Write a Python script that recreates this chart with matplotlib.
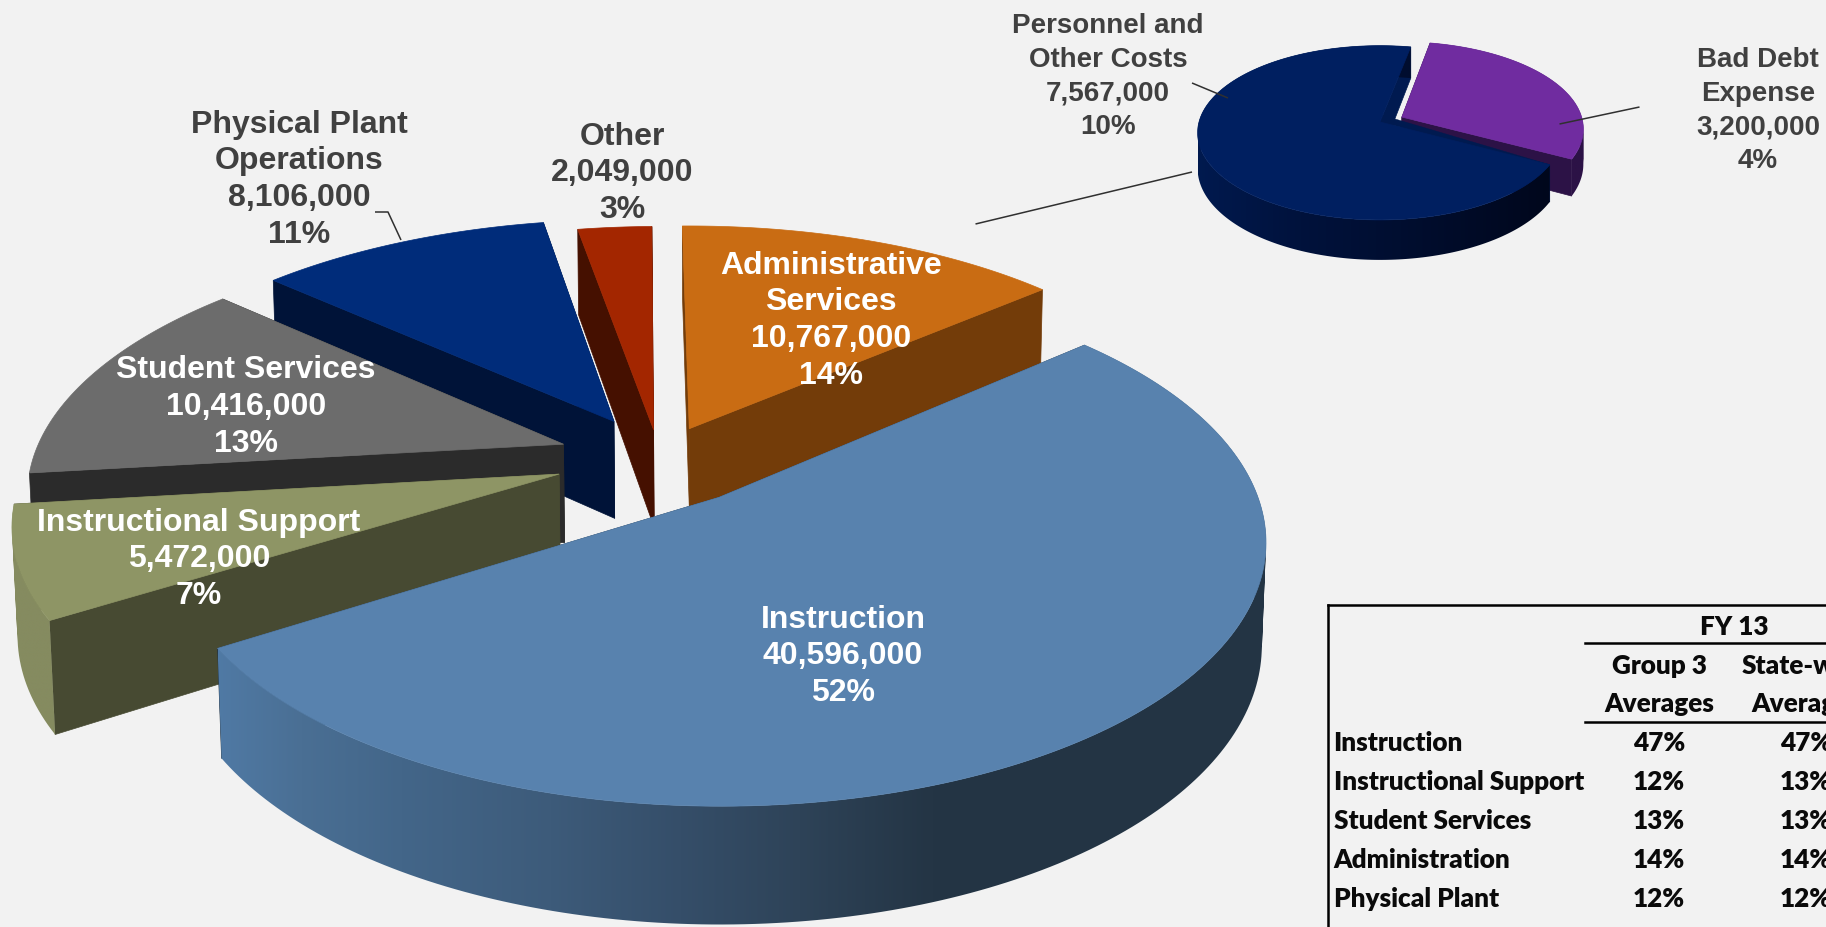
import numpy as np
import matplotlib
matplotlib.use('Agg')
import matplotlib.pyplot as plt
from matplotlib.colors import to_rgb
from matplotlib.patches import PathPatch
from matplotlib.path import Path

plt.rcParams['font.family'] = ['Liberation Sans', 'DejaVu Sans']

# main pie, clockwise from the top
main_names = [['Administrative', 'Services'], ['Instruction'], ['Instructional Support'],
              ['Student Services'], ['Physical Plant', 'Operations'], ['Other']]
main_values = [10767000, 40596000, 5472000, 10416000, 8106000, 2049000]
main_pct = ['14%', '52%', '7%', '13%', '11%', '3%']

# second pie splits the administrative slice
side_names = [['Bad Debt', 'Expense'], ['Personnel and', 'Other Costs']]
side_values = [3200000, 7567000]
side_pct = ['4%', '10%']

table_rows = ['Instruction', 'Instructional Support', 'Student Services', 'Administration', 'Physical Plant']
group3_avg = ['47%', '12%', '13%', '14%', '12%']
state_avg = ['47%', '13%', '13%', '14%', '12%']

BG = '#F2F2F2'
TXT = '#404040'

# camera matrices: plane (u, v, z) to pixels
main_cam = [536.49933532, 73.73160538, 5.19021494, 657.41208288, -10.91359413, -170.89230313,
            103.03154308, 458.04217617, 0.01506637, 0.16054757, 0.0072694]
main_start = 0.05461978
main_explode = [0.14763035, 0.19455739, 0.19459064, 0.18910328, 0.17557294, 0.12666112]
main_depth = [0.85, 1, 1.05, 1, 1, 1]
main_shift = [(0, 3), (0, 0), (0, 0), (0, 0), (0, 0), (2, 2)]
side_cam = [181, 171.1, 0, 1380, 0, -70.67, 35, 122, 0, 0.124, 0]
side_start = np.radians(11)
side_explode = [0.135, 0.0]

main_top = ['#C96C13', '#5882AE', '#8E9565', '#6C6C6C', '#002C7A', '#A32600']
main_wall = ['#733C09', '#233444', '#474A32', '#2B2B2B', '#001338', '#451000']
main_rim = [None, [(213, '#507AA5'), (300, '#4A6F94'), (400, '#436689'), (550, '#3D5B7A'),
                   (680, '#354E69'), (800, '#2E4358'), (930, '#243545'), (1265, '#233444')],
            [(0, '#858B60'), (100, '#858B60')], None, None, None]
side_top = ['#702CA0', '#001F60']
side_wall = ['#2C1246', '#001A50']
side_rim = [[(0, '#2C1246'), (2000, '#2C1246')],
            [(1190, '#001A50'), (1300, '#00123C'), (1400, '#000E30'), (1550, '#00071C')]]

z_count = [1]


def next_z():
    z_count[0] += 1
    return z_count[0] * 0.01


def project(P, u, v, z):
    w = P[8]*u + P[9]*v + P[10]*z + 1
    return (P[0]*u + P[1]*v + P[2]*z + P[3]) / w, (P[4]*u + P[5]*v + P[6]*z + P[7]) / w


def gradient_wall(x1, y1, x2, y2, stops):
    # horizontal gradient clipped to the wall strips, all wound the same way so they merge
    verts, codes = [], []
    for k in range(len(x1) - 1):
        q = np.array([[x1[k], y1[k]], [x1[k+1], y1[k+1]], [x2[k+1], y2[k+1]], [x2[k], y2[k]]])
        area = np.sum(q[:, 0]*np.roll(q[:, 1], -1) - np.roll(q[:, 0], -1)*q[:, 1])
        if area < 0:
            q = q[::-1]
        verts += list(q) + [q[0]]
        codes += [Path.MOVETO, Path.LINETO, Path.LINETO, Path.LINETO, Path.CLOSEPOLY]
    xmin, xmax = min(x1.min(), x2.min()), max(x1.max(), x2.max())
    ymin, ymax = min(y1.min(), y2.min()), max(y1.max(), y2.max())
    xs = np.linspace(xmin, xmax, 256)
    cols = np.array([to_rgb(s[1]) for s in stops])
    pos = [s[0] for s in stops]
    grad = np.stack([np.interp(xs, pos, cols[:, k]) for k in range(3)], axis=-1)[None, :, :]
    im = ax.imshow(grad, extent=[xmin, xmax, ymax, ymin], aspect='auto', interpolation='bilinear', zorder=next_z())
    clip = PathPatch(Path(np.array(verts), codes), transform=ax.transData, fc='none', ec='none')
    ax.add_patch(clip)
    im.set_clip_path(clip)


def draw_slice(P, a0, a1, e, top, wall, rim, depth=1, shift=(0, 0), notch=False):
    mid = (a0 + a1) / 2
    cu, cv = e*np.sin(mid), e*np.cos(mid)
    th = np.linspace(a0, a1, max(int((a1 - a0)*60), 12))
    ru, rv = cu + np.sin(th), cv + np.cos(th)
    sx, sy = shift
    # radial side walls
    for t in (a0, a1):
        eu, ev = cu + np.sin(t), cv + np.cos(t)
        x0, y0 = project(P, np.array([cu, eu, eu, cu]), np.array([cv, ev, ev, cv]),
                         np.array([0, 0, depth, depth]))
        ax.fill(x0 + sx, y0 + sy, color=wall, lw=0.5, zorder=next_z())
    # outer wall
    if rim is not None:
        x1, y1 = project(P, ru, rv, np.zeros(len(th)))
        x2, y2 = project(P, ru, rv, np.full(len(th), float(depth)))
        gradient_wall(x1 + sx, y1 + sy, x2 + sx, y2 + sy, rim)
    if notch:
        # thin dark wedge beside the cut of the second pie
        nx, ny = project(P, np.array([cu + np.sin(a0), cu, cu + 0.08*np.sin(a1)]),
                         np.array([cv + np.cos(a0), cv, cv + 0.08*np.cos(a1)]), np.zeros(3))
        ax.fill(nx + sx, ny + sy, color=wall, lw=0.3, zorder=next_z())
    xs, ys = project(P, np.r_[cu, ru], np.r_[cv, rv], np.zeros(len(th) + 1))
    ax.fill(xs + sx, ys + sy, color=top, lw=0.5, zorder=next_z())


def draw_pie(P, values, start, explode, tops, walls, rims, order, depths=None, shifts=None, notch=None):
    vals = np.array(values, float)
    edges = np.r_[0, np.cumsum(vals)] / vals.sum() * 2*np.pi + start
    for i in order:
        d = depths[i] if depths else 1
        s = shifts[i] if shifts else (0, 0)
        draw_slice(P, edges[i], edges[i+1], explode[i], tops[i], walls[i], rims[i], d, s, notch == i)


def label(x, y, lines, size, dy, color):
    # x, y is the centre of the first line
    for n, s in enumerate(lines):
        ax.text(x, y + n*dy + size*0.5, s, ha='center', va='baseline', fontsize=size, fontweight='bold',
                color=color, zorder=10)


fig = plt.figure(figsize=(18.26, 9.27), dpi=100, facecolor=BG)
ax = fig.add_axes([0, 0, 1, 1])
ax.set_autoscale_on(False)
ax.set_xlim(0, 1826)
ax.set_ylim(927, 0)
ax.axis('off')

draw_pie(main_cam, main_values, main_start, main_explode, main_top, main_wall, main_rim,
         [5, 0, 4, 3, 2, 1], main_depth, main_shift)
draw_pie(side_cam, side_values, side_start, side_explode, side_top, side_wall, side_rim, [0, 1], notch=1)

main_pos = [(831, 262), (843, 616), (199, 519), (246, 367), (299, 121), (622, 133)]
for i, (x, y) in enumerate(main_pos):
    lines = main_names[i] + [f'{main_values[i]:,}', main_pct[i]]
    col = TXT if i >= 4 else 'white'
    label(x, y, lines, 23, 36.8, col)

side_pos = [(1758, 57), (1108, 23)]
for i, (x, y) in enumerate(side_pos):
    label(x, y, side_names[i] + [f'{side_values[i]:,}', side_pct[i]], 20, 33.8, TXT)

# leader lines
leaders = [([375, 388, 401], [212, 212, 240]), ([1192, 1228], [83, 98]),
           ([1192, 975.5], [172, 224]), ([1639.5, 1559.5], [107, 124])]
for lx, ly in leaders:
    ax.plot(lx, ly, color='#303030', lw=1.1, solid_capstyle='butt', zorder=9)

# comparison table, runs off the right and bottom of the picture
ax.plot([1327.5, 1327.5], [927, 605], color='black', lw=1.8, zorder=5)
ax.plot([1327.5, 1826], [605, 605], color='black', lw=1.8, zorder=5)
ax.plot([1585, 1826], [643, 643], color='black', lw=1.8, zorder=5)
ax.plot([1585, 1826], [722, 722], color='black', lw=1.8, zorder=5)
tkw = dict(family=['Lato', 'DejaVu Sans'], fontweight='heavy', fontsize=18.8, color='#0A0A0A', va='center', zorder=10)
ax.text(1734.5, 627, 'FY 13', ha='center', **tkw)
ax.text(1659, 666, 'Group 3', ha='center', **tkw)
ax.text(1659, 704, 'Averages', ha='center', **tkw)
ax.text(1806, 666, 'State-wide', ha='center', **tkw)
ax.text(1806, 704, 'Averages', ha='center', **tkw)
for n, name in enumerate(table_rows):
    y = 743 + n*39
    ax.text(1333.5, y, name, ha='left', **tkw)
    ax.text(1659, y, group3_avg[n], ha='center', **tkw)
    ax.text(1806, y, state_avg[n], ha='center', **tkw)

fig.savefig('out.png', dpi=100, facecolor=BG)
